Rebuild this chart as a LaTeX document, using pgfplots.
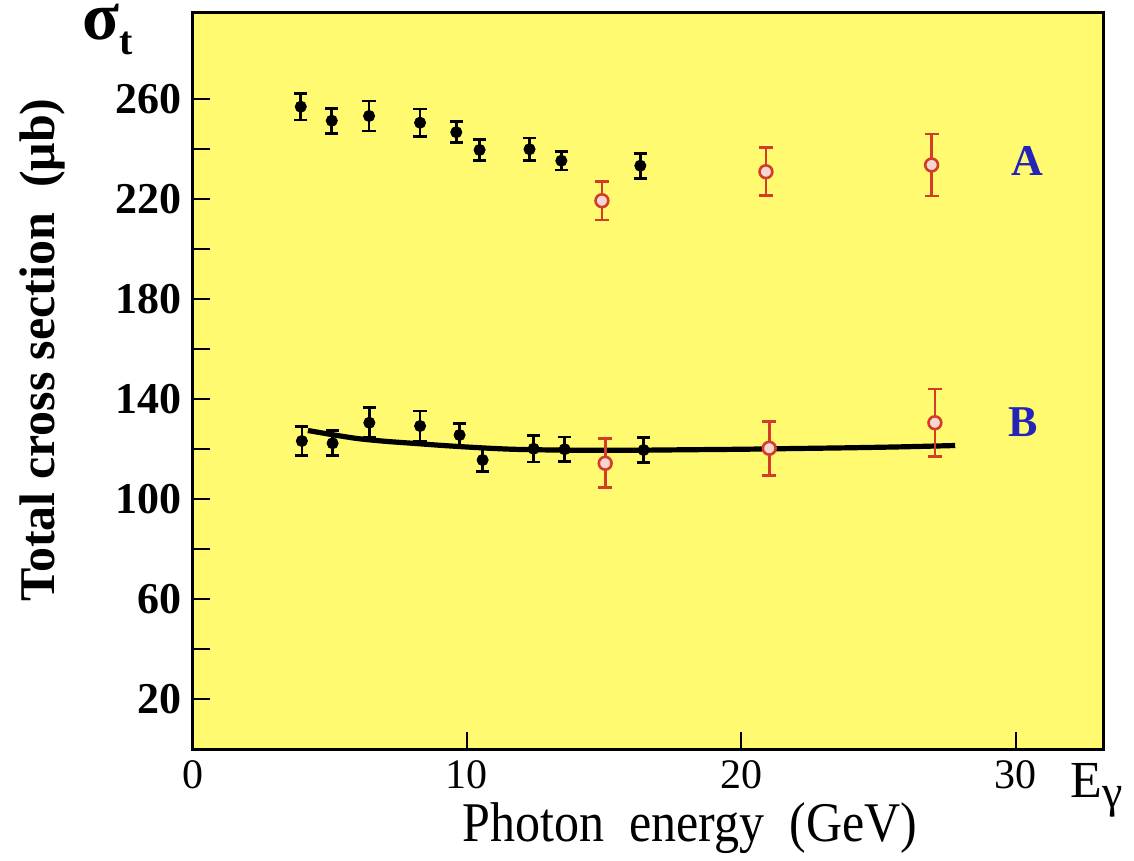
\documentclass[border=0pt]{standalone}
\usepackage{fontspec}
\setmainfont{Liberation Serif}
\usepackage{pgfplots}
\usepackage{pgfplotstable}
\pgfplotsset{compat=1.18}

\definecolor{bgyellow}{RGB}{255,250,112}
\definecolor{ptred}{RGB}{212,60,42}
\definecolor{ptpink}{RGB}{246,214,208}
\definecolor{lblue}{RGB}{36,36,185}

% series A (upper), black: earlier data, red: new points
\pgfplotstableread{
x     y      e
3.94  257.0  5.3
5.07  251.4  5.0
6.43  253.3  6.0
8.29  250.6  5.5
9.61  246.8  4.2
10.46 239.7  4.3
12.28 240.0  4.5
13.44 235.4  3.7
16.32 233.4  5.0
}\blackA
\pgfplotstableread{
x     y      e
14.92 219.4  7.7
20.90 231.0  9.6
26.94 233.7  12.4
}\redA
% series B (lower)
\pgfplotstableread{
x     y      e
3.98  123.3  5.7
5.10  122.4  5.0
6.44  130.6  6.0
8.29  129.3  6.0
9.73  125.7  4.5
10.57 115.7  4.5
12.43 120.2  5.3
13.56 120.0  4.9
16.44 119.7  5.0
}\blackB
\pgfplotstableread{
x     y      e
15.04 114.4  9.8
21.02 120.4  10.8
27.06 130.6  13.5
}\redB
% fitted curve through series B
\pgfplotstableread{
x     y
4.2   127.5
5.0   126.0
6.0   124.3
7.0   123.2
8.0   122.4
9.0   121.6
10.0  120.9
11.0  120.3
12.0  119.9
14.0  119.6
16.0  119.6
18.0  119.8
20.0  120.0
22.0  120.3
24.0  120.6
26.0  121.0
27.8  121.5
}\fitB

\begin{document}
\begin{tikzpicture}
\begin{axis}[
  scale only axis,
  width=455.3pt, height=368.3pt,
  xmin=0, xmax=33.2, ymin=0, ymax=294.6,
  clip mode=individual,
  axis background/.style={fill=bgyellow},
  axis line style={line width=1.5pt},
  xtick pos=bottom, ytick pos=left,
  tick align=inside,
  xtick={0,10,20,30},
  ytick={20,40,...,260},
  yticklabels={20,,60,,100,,140,,180,,220,,260},
  major tick length=8.5pt,
  tick style={black, line width=1pt},
  /pgf/number format/assume math mode=true,
  xticklabel style={font=\fontsize{21}{21}\selectfont, yshift=-2pt},
  yticklabel style={font=\fontsize{22}{22}\selectfont\bfseries, xshift=-2pt},
]
\addplot[black, line width=2.6pt, smooth] table[x=x, y=y] {\fitB};

\addplot[only marks, black, mark=*, mark size=2.8pt,
  mark options={fill=black},
  error bars/.cd, y dir=both, y explicit,
  error bar style={line width=1.3pt},
  error mark options={rotate=90, mark size=3.3pt, line width=1.3pt}]
  table[x=x, y=y, y error=e] {\blackA};
\addplot[only marks, black, mark=*, mark size=2.8pt,
  mark options={fill=black},
  error bars/.cd, y dir=both, y explicit,
  error bar style={line width=1.3pt},
  error mark options={rotate=90, mark size=3.3pt, line width=1.3pt}]
  table[x=x, y=y, y error=e] {\blackB};
\addplot[only marks, ptred, mark=*, mark size=3.2pt,
  mark options={fill=ptpink, line width=1.3pt},
  error bars/.cd, y dir=both, y explicit,
  error bar style={line width=1.3pt, ptred},
  error mark options={rotate=90, mark size=3.5pt, line width=1.3pt, ptred}]
  table[x=x, y=y, y error=e] {\redA};
\addplot[only marks, ptred, mark=*, mark size=3.2pt,
  mark options={fill=ptpink, line width=1.3pt},
  error bars/.cd, y dir=both, y explicit,
  error bar style={line width=1.3pt, ptred},
  error mark options={rotate=90, mark size=3.5pt, line width=1.3pt, ptred}]
  table[x=x, y=y, y error=e] {\redB};

\node[lblue, font=\fontsize{22}{22}\selectfont\bfseries] at (axis cs:30.44,235.3) {A};
\node[lblue, font=\fontsize{22}{22}\selectfont\bfseries] at (axis cs:30.26,130.9) {B};

\node[rotate=90, font=\fontsize{25}{25}\selectfont\bfseries] at (axis description cs:-0.1655,0.542)
  {Total cross section\ \ (μb)};
\node[font=\fontsize{25}{25}\selectfont] at (axis description cs:0.546,-0.107)
  {\scalebox{1}[1.12]{Photon\ \ energy\ \ (GeV)}};
\node[anchor=base west, inner sep=0pt, font=\fontsize{34}{34}\selectfont\bfseries]
  at (axis description cs:-0.1216,0.9640)
  {σ\raisebox{-7.5pt}{\fontsize{20}{20}\selectfont t}};
\node[anchor=base west, inner sep=0pt, font=\fontsize{26}{26}\selectfont]
  at (axis description cs:0.9640,-0.0648)
  {E\raisebox{-5pt}{\fontsize{23}{23}\selectfont γ}};

\coordinate (BL) at (axis description cs:-0.21162,-0.15164);
\coordinate (TR) at (axis description cs:1.03371,1.01724);
\end{axis}
\pgfresetboundingbox
\useasboundingbox (BL) rectangle (TR);
\end{tikzpicture}
\end{document}
